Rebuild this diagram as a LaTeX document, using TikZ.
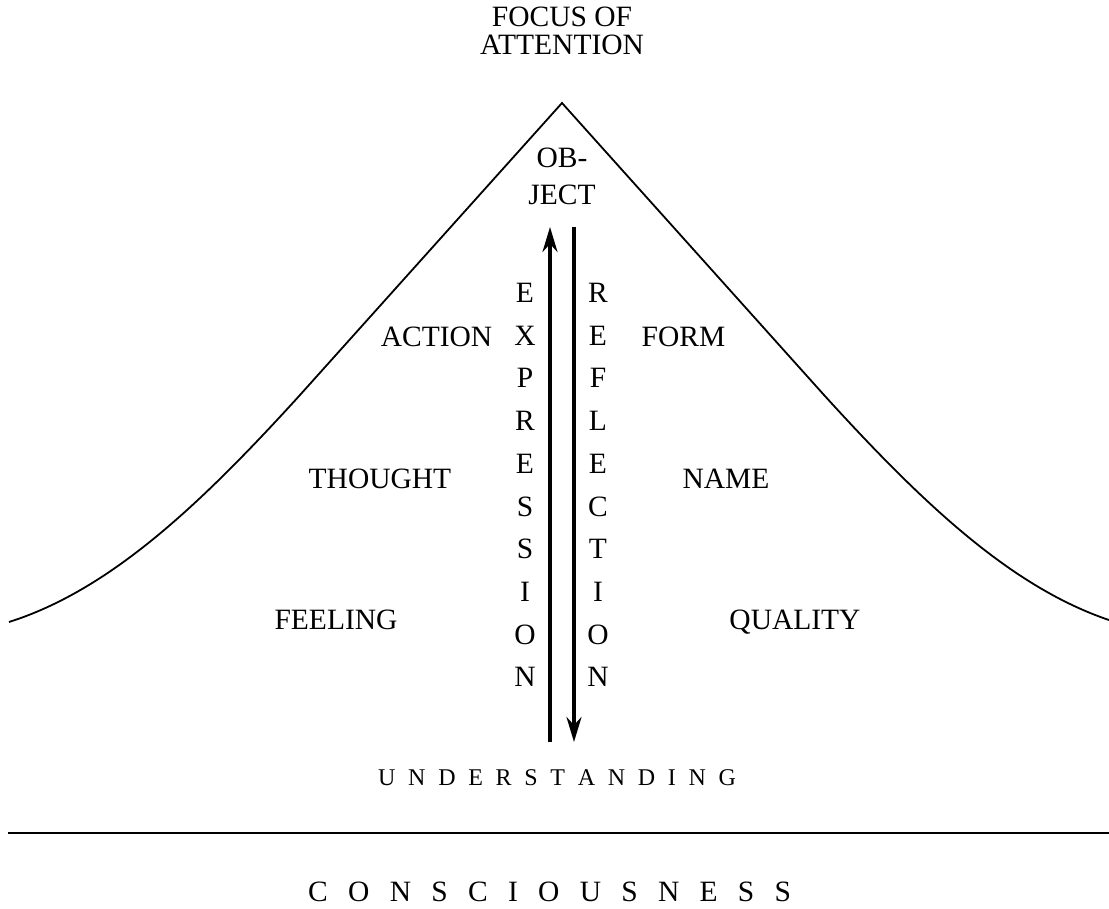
\documentclass[tikz,border=0pt]{standalone}
\usepackage{fontspec}
\setmainfont{Liberation Serif}
\usetikzlibrary{arrows.meta}
\begin{document}
\begin{tikzpicture}[x=1pt,y=-1pt,
  lbl/.style={inner sep=0pt,anchor=base,font=\fontsize{29.5}{30}\selectfont},
  vlet/.style={inner sep=0pt,anchor=base,font=\fontsize{29.5}{30}\selectfont},
  spc/.style={inner sep=0pt,anchor=base west},
  curve/.style={line width=1.8pt},
  flow/.style={line width=3.3pt,-{Stealth[length=25pt,width=15pt,inset=8pt]}}]
\useasboundingbox (0,0) rectangle (1109,909);
\clip (0,0) rectangle (1109,909);
% hill
\draw[curve] (9,622) .. controls (110,590) and (200,505) .. (300,395)
  -- (562,103) -- (824,395) .. controls (924,505) and (1014,590) .. (1115,622);
% ground line
\draw[line width=2.4pt] (8,833) -- (1115,833);
% texts
\node[lbl] (focus1) at (562,26.5) {FOCUS OF};
\node[lbl] (focus2) at (562,54.5) {ATTENTION};
\node[lbl] (ob) at (562,167.5) {OB-};
\node[lbl] (ject) at (562,204.5) {JECT};
\node[lbl] (action) at (436.5,346.5) {ACTION};
\node[lbl] (form) at (683.5,346.5) {FORM};
\node[lbl] (thought) at (380,488.5) {THOUGHT};
\node[lbl] (name) at (726,488.5) {NAME};
\node[lbl] (feeling) at (336,629.5) {FEELING};
\node[lbl] (quality) at (795,629.5) {QUALITY};
% vertical words
\foreach \l [count=\i from 0] in {E,X,P,R,E,S,S,I,O,N}
  \node[vlet] (ex\i) at (525,{302.5+42.7*\i}) {\l};
\foreach \l [count=\i from 0] in {R,E,F,L,E,C,T,I,O,N}
  \node[vlet] (re\i) at (598,{302.5+42.7*\i}) {\l};
% arrows
\coordinate (upbot) at (550,742);
\coordinate (uptop) at (550,227);
\coordinate (dntop) at (574,227);
\coordinate (dnbot) at (574,742);
\draw[flow] (upbot) -- (uptop);
\draw[flow] (dntop) -- (dnbot);
% spaced words
\node[spc,font=\fontsize{24}{25}\selectfont] (under) at (378,785)
  {U\kern12.7pt N\kern12.7pt D\kern12.7pt E\kern12.7pt R\kern12.7pt S\kern12.7pt T\kern12.7pt A\kern12.7pt N\kern12.7pt D\kern12.7pt I\kern12.7pt N\kern12.7pt G};
\node[spc,font=\fontsize{29.5}{30}\selectfont] (consc) at (308,901.5)
  {C\kern20.3pt O\kern20.3pt N\kern20.3pt S\kern20.3pt C\kern20.3pt I\kern20.3pt O\kern20.3pt U\kern20.3pt S\kern20.3pt N\kern20.3pt E\kern20.3pt S\kern20.3pt S};
\end{tikzpicture}
\end{document}
